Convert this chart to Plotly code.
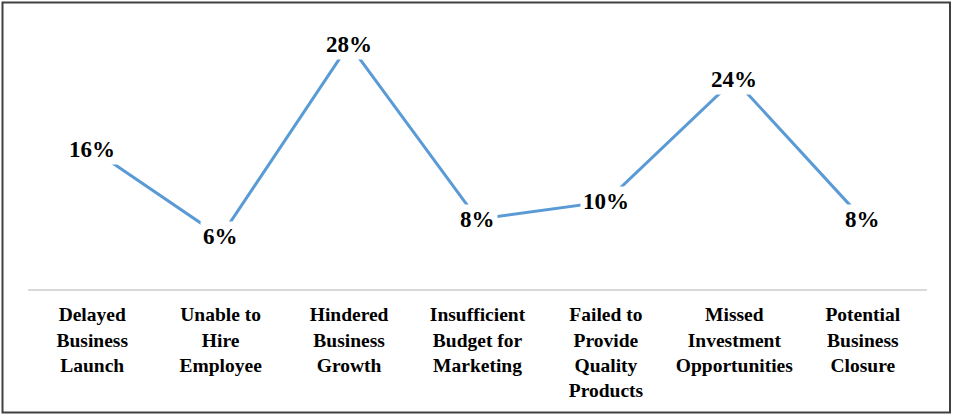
import plotly.graph_objects as go

# Share of respondents reporting each business impact (percent)
categories = [
    "Delayed<br>Business<br>Launch",
    "Unable to<br>Hire<br>Employee",
    "Hindered<br>Business<br>Growth",
    "Insufficient<br>Budget for<br>Marketing",
    "Failed to<br>Provide<br>Quality<br>Products",
    "Missed<br>Investment<br>Opportunities",
    "Potential<br>Business<br>Closure",
]
values = [16, 6, 28, 8, 10, 24, 8]
value_labels = [f"{v}%" for v in values]

SERIF = "Times New Roman, Liberation Serif, serif"

W, H = 953, 415
L, R, T, B = 28, 26, 27, 126
plot_w = W - L - R
plot_h = H - T - B

fig = go.Figure()
fig.add_trace(go.Scatter(
    x=list(range(len(categories))),
    y=values,
    mode="lines",
    line=dict(color="#5B9BD5", width=3),
    hoverinfo="skip",
    showlegend=False,
))

# Data labels sit on the points with a white box masking the line
for i, (v, lab) in enumerate(zip(values, value_labels)):
    fig.add_annotation(
        x=i, y=v, text=f"<b>{lab}</b>", showarrow=False,
        xanchor="center", yanchor="middle",
        bgcolor="white", borderpad=2,
        font=dict(family=SERIF, size=23, color="black"),
    )

# Outer frame around the whole chart
def px_x(px):
    return (px - L) / plot_w

def px_y(py):
    return (H - B - py) / plot_h

fig.add_shape(
    type="rect", xref="paper", yref="paper",
    x0=px_x(2.5), x1=px_x(950), y0=px_y(412.5), y1=px_y(2.5),
    line=dict(color="#404040", width=2), fillcolor="rgba(0,0,0,0)",
    layer="above",
)

fig.update_layout(
    width=W, height=H,
    margin=dict(l=L, r=R, t=T, b=B, pad=0),
    paper_bgcolor="white", plot_bgcolor="white",
    xaxis=dict(
        range=[-0.5, len(categories) - 0.5],
        tickmode="array",
        tickvals=list(range(len(categories))),
        ticktext=[f"<b>{c}</b>".replace("<br>", "</b><br><b>") for c in categories],
        showgrid=False, zeroline=False,
        showline=True, linecolor="#D9D9D9", linewidth=1.5,
        ticks="", ticklabelstandoff=7,
        tickfont=dict(family=SERIF, size=19.5, color="black"),
        fixedrange=True,
    ),
    yaxis=dict(
        range=[0, 30], visible=False, showgrid=False, zeroline=False,
        fixedrange=True,
    ),
)

fig.write_html("out.html")
